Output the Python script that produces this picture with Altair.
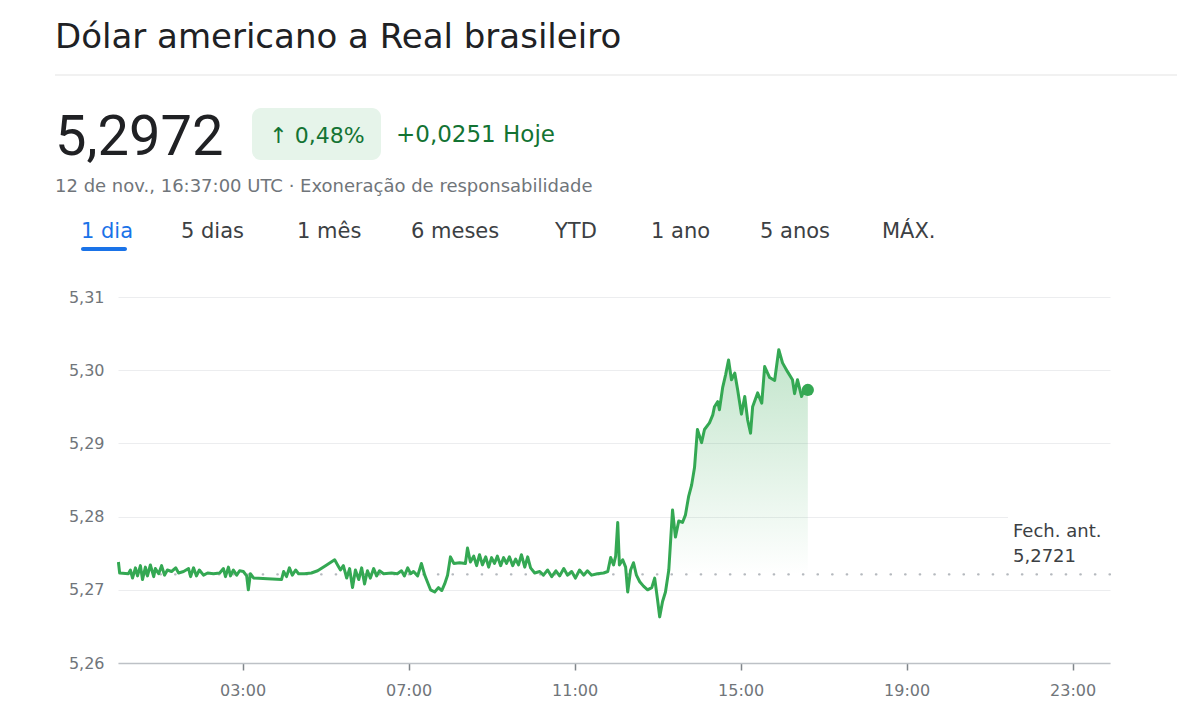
import altair as alt
import pandas as pd

# ---------------- data ----------------
hours = [
    0.01, 0.04, 0.25, 0.30, 0.35, 0.42, 0.47, 0.54, 0.59, 0.66,
    0.71, 0.78, 0.86, 0.90, 0.98, 1.05, 1.12, 1.19, 1.29, 1.39,
    1.46, 1.58, 1.70, 1.75, 1.82, 1.89, 1.96, 2.06, 2.16, 2.30,
    2.45, 2.54, 2.59, 2.66, 2.71, 2.78, 2.86, 2.93, 3.02, 3.10,
    3.14, 3.19, 3.27, 3.60, 3.94, 3.99, 4.06, 4.13, 4.20, 4.28,
    4.35, 4.49, 4.66, 4.81, 5.00, 5.22, 5.29, 5.36, 5.43, 5.51,
    5.58, 5.65, 5.72, 5.80, 5.87, 5.94, 6.01, 6.08, 6.16, 6.23,
    6.30, 6.40, 6.59, 6.73, 6.83, 6.90, 6.98, 7.05, 7.12, 7.22,
    7.31, 7.39, 7.46, 7.53, 7.63, 7.72, 7.80, 7.87, 7.94, 8.01,
    8.09, 8.23, 8.37, 8.42, 8.49, 8.57, 8.64, 8.71, 8.78, 8.86,
    8.93, 9.00, 9.07, 9.14, 9.22, 9.29, 9.36, 9.43, 9.51, 9.58,
    9.65, 9.72, 9.80, 9.87, 9.94, 10.04, 10.16, 10.25, 10.35, 10.45,
    10.55, 10.64, 10.74, 10.83, 10.93, 11.02, 11.12, 11.22, 11.31, 11.41,
    11.55, 11.70, 11.80, 11.87, 11.94, 11.99, 12.04, 12.08, 12.16, 12.23,
    12.28, 12.35, 12.42, 12.49, 12.57, 12.66, 12.76, 12.86, 12.93, 13.00,
    13.05, 13.12, 13.19, 13.27, 13.36, 13.43, 13.51, 13.60, 13.67, 13.75,
    13.82, 13.89, 13.96, 14.06, 14.13, 14.25, 14.33, 14.37, 14.45, 14.49,
    14.57, 14.64, 14.71, 14.78, 14.86, 14.93, 15.02, 15.10, 15.17, 15.24,
    15.29, 15.41, 15.51, 15.58, 15.70, 15.82, 15.92, 16.01, 16.13, 16.25,
    16.30, 16.37, 16.47, 16.54, 16.62,
]
values = [
    5.2738, 5.2723, 5.2722, 5.2727, 5.2716, 5.2730, 5.2719, 5.2733, 5.2714, 5.2731,
    5.2719, 5.2734, 5.2718, 5.2729, 5.2722, 5.2733, 5.2720, 5.2727, 5.2725, 5.2730,
    5.2723, 5.2725, 5.2729, 5.2718, 5.2730, 5.2719, 5.2727, 5.2720, 5.2723, 5.2722,
    5.2723, 5.2729, 5.2718, 5.2731, 5.2719, 5.2727, 5.2720, 5.2726, 5.2725, 5.2719,
    5.2700, 5.2722, 5.2716, 5.2715, 5.2714, 5.2725, 5.2718, 5.2730, 5.2720, 5.2727,
    5.2722, 5.2722, 5.2723, 5.2726, 5.2733, 5.2741, 5.2734, 5.2727, 5.2733, 5.2716,
    5.2729, 5.2703, 5.2727, 5.2714, 5.2730, 5.2708, 5.2726, 5.2716, 5.2729, 5.2719,
    5.2726, 5.2722, 5.2723, 5.2722, 5.2726, 5.2719, 5.2730, 5.2722, 5.2725, 5.2719,
    5.2736, 5.2720, 5.2710, 5.2700, 5.2697, 5.2703, 5.2699, 5.2708, 5.2720, 5.2745,
    5.2736, 5.2737, 5.2736, 5.2757, 5.2738, 5.2746, 5.2733, 5.2748, 5.2734, 5.2745,
    5.2731, 5.2744, 5.2736, 5.2746, 5.2733, 5.2744, 5.2736, 5.2745, 5.2733, 5.2742,
    5.2734, 5.2748, 5.2731, 5.2745, 5.2730, 5.2723, 5.2725, 5.2720, 5.2727, 5.2718,
    5.2726, 5.2719, 5.2729, 5.2720, 5.2725, 5.2716, 5.2727, 5.2720, 5.2726, 5.2720,
    5.2722, 5.2723, 5.2725, 5.2744, 5.2734, 5.2746, 5.2792, 5.2734, 5.2741, 5.2731,
    5.2697, 5.2727, 5.2737, 5.2720, 5.2711, 5.2705, 5.2700, 5.2703, 5.2716, 5.2686,
    5.2663, 5.2684, 5.2697, 5.2727, 5.2809, 5.2772, 5.2794, 5.2792, 5.2802, 5.2828,
    5.2843, 5.2867, 5.2919, 5.2901, 5.2919, 5.2928, 5.2939, 5.2950, 5.2957, 5.2946,
    5.2977, 5.2994, 5.3014, 5.2987, 5.2996, 5.2973, 5.2940, 5.2964, 5.2932, 5.2914,
    5.2950, 5.2969, 5.2955, 5.3005, 5.2990, 5.2986, 5.3028, 5.3010, 5.2998, 5.2987,
    5.2968, 5.2987, 5.2964, 5.2975, 5.2973,
]
assert len(hours) == len(values)

prev_close = 5.2721
y_ticks = [5.26, 5.27, 5.28, 5.29, 5.30, 5.31]
x_ticks = [3, 7, 11, 15, 19, 23]
tabs = ["1 dia", "5 dias", "1 mês", "6 meses", "YTD", "1 ano", "5 anos", "MÁX."]

title_text = "Dólar americano a Real brasileiro"
price_text = "5,2972"
pct_text = "↑ 0,48%"
change_text = "+0,0251 Hoje"
subtitle_text = "12 de nov., 16:37:00 UTC · Exoneração de responsabilidade"
prev_label = ["Fech. ant.", "5,2721"]

# ---------------- layout ----------------
W, H = 992, 366
PAD = {"left": 118, "top": 297, "right": 67, "bottom": 57}
tab_x = [-37, 63, 179, 293, 437, 533, 642, 764]

GREEN = "#34a853"
DARK_GREEN = "#137333"
GREY_TXT = "#70757a"
FONT = "DejaVu Sans"
NUM_FONT = "Roboto"

df = pd.DataFrame({"h": hours, "v": values})
df["base"] = prev_close
rise = df[df["h"] >= 13.27]

xscale = alt.Scale(domain=[0, 23.9], nice=False)
yscale = alt.Scale(domain=[5.26, 5.31], nice=False, zero=False)

x_enc = alt.X(
    "h:Q", scale=xscale, title=None,
    axis=alt.Axis(values=x_ticks,
                  labelExpr="(datum.value < 10 ? '0' : '') + datum.value + ':00'",
                  grid=False, domainColor="#bdc1c6", domainWidth=1.5,
                  tickColor="#80868b", tickSize=7, tickWidth=1.5,
                  labelColor=GREY_TXT, labelFontSize=16, labelFont=FONT,
                  labelPadding=12),
)
y_enc = alt.Y(
    "v:Q", scale=yscale, title=None,
    axis=alt.Axis(values=y_ticks,
                  labelExpr="replace(format(datum.value, '.2f'), '.', ',')",
                  domain=False, ticks=False, grid=True, gridColor="#ecedef",
                  gridWidth=1, labelColor=GREY_TXT, labelFontSize=16,
                  labelFont=FONT, labelPadding=14),
)

gradient = alt.Gradient(
    gradient="linear",
    stops=[alt.GradientStop(color="rgba(52,168,83,0.30)", offset=0),
           alt.GradientStop(color="rgba(52,168,83,0.0)", offset=1)],
    x1=0, x2=0, y1=0, y2=1,
)

area = alt.Chart(rise).mark_area(color=gradient).encode(
    x=alt.X("h:Q", scale=xscale), y=alt.Y("v:Q", scale=yscale), y2="base:Q")

prev_rule = alt.Chart(pd.DataFrame({"pc": [prev_close]})).mark_rule(
    color="#b5b9be", strokeDash=[0.5, 14.1], strokeWidth=2.2, strokeCap="round"
).encode(y=alt.Y("pc:Q", scale=yscale))

line = alt.Chart(df).mark_line(color=GREEN, strokeWidth=3, strokeJoin="round").encode(
    x=x_enc, y=y_enc)

end_dot = alt.Chart(df.tail(1)).mark_point(filled=True, size=150, color=GREEN, opacity=1).encode(
    x=alt.X("h:Q", scale=xscale), y=alt.Y("v:Q", scale=yscale))


def txt(s, x, y, size, color, weight="normal", align="left", font=FONT, baseline="alphabetic"):
    return alt.Chart(pd.DataFrame({"t": [s]})).mark_text(
        align=align, baseline=baseline, fontSize=size, color=color,
        fontWeight=weight, font=font,
    ).encode(text="t:N", x=alt.value(x), y=alt.value(y))


def box(x, x2, y, y2, color, radius=0):
    return alt.Chart(pd.DataFrame({"a": [0]})).mark_rect(
        color=color, cornerRadius=radius
    ).encode(x=alt.value(x), x2=alt.value(x2), y=alt.value(y), y2=alt.value(y2))


label_bg = box(890, 994, 216, 270, "white")
label1 = txt(prev_label[0], 895, 240, 18, "#3c4043")
label2 = txt(prev_label[1], 895, 265, 18, "#3c4043")

separator = alt.Chart(pd.DataFrame({"a": [0]})).mark_rule(color="#e3e3e3", strokeWidth=1).encode(
    x=alt.value(-63), x2=alt.value(1059), y=alt.value(-222))

header = [
    txt(title_text, -63, -249, 34, "#202124"),
    separator,
    txt(price_text, -63, -142, 56, "#202124", font=NUM_FONT),
    box(134, 263, -189, -137, "#e6f4ea", radius=9),
    txt(pct_text, 199, -154, 22, DARK_GREEN, align="center"),
    txt(change_text, 278, -155, 23, DARK_GREEN),
    txt(subtitle_text, -63, -105, 18, GREY_TXT),
    box(-37, 9, -50, -46, "#1a73e8", radius=2),
]
for i, (t, xp) in enumerate(zip(tabs, tab_x)):
    header.append(txt(t, xp, -59, 21, "#1a73e8" if i == 0 else "#3c4043"))

chart = alt.layer(
    area, prev_rule, line, end_dot, label_bg, label1, label2, *header
).properties(
    width=W, height=H,
    autosize=alt.AutoSizeParams(type="none"),
    padding=PAD,
    background="white",
).configure_view(stroke=None)

chart.save("out.html", embed_options={"renderer": "svg", "actions": False})
